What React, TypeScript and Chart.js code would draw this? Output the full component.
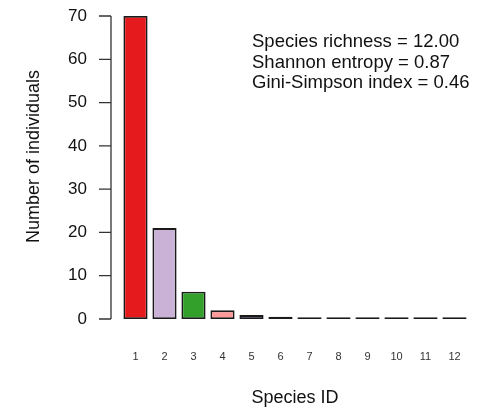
import { useEffect, useRef } from "react";
import { Chart, registerables } from "chart.js";

Chart.register(...registerables);

// Abundance of each species in the sample
const speciesIds = ["1", "2", "3", "4", "5", "6", "7", "8", "9", "10", "11", "12"];
const individuals = [70, 21, 6.3, 2, 0.9, 0.5, 0.4, 0.4, 0.4, 0.4, 0.4, 0.4];
const barColors = [
  "#E41A1C", "#CAB2D6", "#33A02C", "#FB9A99", "#6A3D9A", "#3B2A4A",
  "#555555", "#555555", "#555555", "#555555", "#555555", "#555555",
];
const yTickValues = [0, 10, 20, 30, 40, 50, 60, 70];
const yTitle = "Number of individuals";
const statsLines = [
  "Species richness = 12.00",
  "Shannon entropy = 0.87",
  "Gini-Simpson index = 0.46",
];

const FONT = "'Liberation Sans', Arial, Helvetica, sans-serif";

// Detached y axis line with outward ticks, its title, and the diversity summary text
const axisAndStats = {
  id: "axisAndStats",
  afterDraw(chart: any) {
    const { ctx, chartArea } = chart;
    const yScale = chart.scales.y;
    const axisX = chartArea.left - 10;
    ctx.save();
    ctx.strokeStyle = "#333333";
    ctx.lineWidth = 1.3;
    ctx.beginPath();
    ctx.moveTo(axisX, yScale.getPixelForValue(yTickValues[yTickValues.length - 1]));
    ctx.lineTo(axisX, yScale.getPixelForValue(yTickValues[0]));
    for (const v of yTickValues) {
      const py = yScale.getPixelForValue(v);
      ctx.moveTo(axisX, py);
      ctx.lineTo(axisX - 12, py);
    }
    ctx.stroke();

    ctx.fillStyle = "#111111";
    ctx.font = `18px ${FONT}`;
    ctx.textAlign = "center";
    ctx.textBaseline = "middle";
    ctx.save();
    ctx.translate(34, (chartArea.top + chartArea.bottom) / 2 - 11);
    ctx.rotate(-Math.PI / 2);
    ctx.fillText(yTitle, 0, 0);
    ctx.restore();

    ctx.font = `18.5px ${FONT}`;
    ctx.textAlign = "left";
    statsLines.forEach((line, i) => {
      ctx.fillText(line, 252, 42 + i * 20.5);
    });
    ctx.restore();
  },
};

export default function App() {
  const canvasRef = useRef<HTMLCanvasElement | null>(null);

  useEffect(() => {
    document.body.style.margin = "0";
    document.body.style.overflow = "hidden";
    const canvas = canvasRef.current;
    if (!canvas) return;
    const chart = new Chart(canvas, {
      type: "bar",
      data: {
        labels: speciesIds,
        datasets: [
          {
            data: individuals,
            backgroundColor: barColors,
            borderColor: "#1a1a1a",
            borderWidth: 1.8,
            borderSkipped: false,
            categoryPercentage: 1,
            barPercentage: 0.833,
          },
        ],
      },
      options: {
        responsive: false,
        animation: false,
        events: [],
        layout: { padding: { left: 0, right: 29, top: 16, bottom: 0 } },
        plugins: {
          legend: { display: false },
          tooltip: { enabled: false },
        },
        scales: {
          x: {
            type: "category",
            offset: true,
            grid: { display: false, drawTicks: true, tickLength: 31 },
            border: { display: false },
            ticks: {
              color: "#333333",
              font: { family: FONT, size: 11 },
              padding: 0,
              autoSkip: false,
              maxRotation: 0,
            },
            title: {
              display: true,
              text: "Species ID",
              color: "#111111",
              font: { family: FONT, size: 18 },
              padding: { top: 0, bottom: 1 },
            },
            afterFit(scale: any) {
              scale.height = 91;
            },
          },
          y: {
            min: 0,
            max: 70,
            grid: { display: false, drawTicks: true, tickLength: 34 },
            border: { display: false },
            ticks: {
              stepSize: 10,
              color: "#111111",
              font: { family: FONT, size: 17 },
              padding: 0,
            },
            afterFit(scale: any) {
              scale.width = 121;
            },
          },
        },
      },
      plugins: [axisAndStats],
    });
    return () => chart.destroy();
  }, []);

  return (
    <div style={{ width: 498, height: 410, background: "#ffffff" }}>
      <canvas ref={canvasRef} width={498} height={410} />
    </div>
  );
}
